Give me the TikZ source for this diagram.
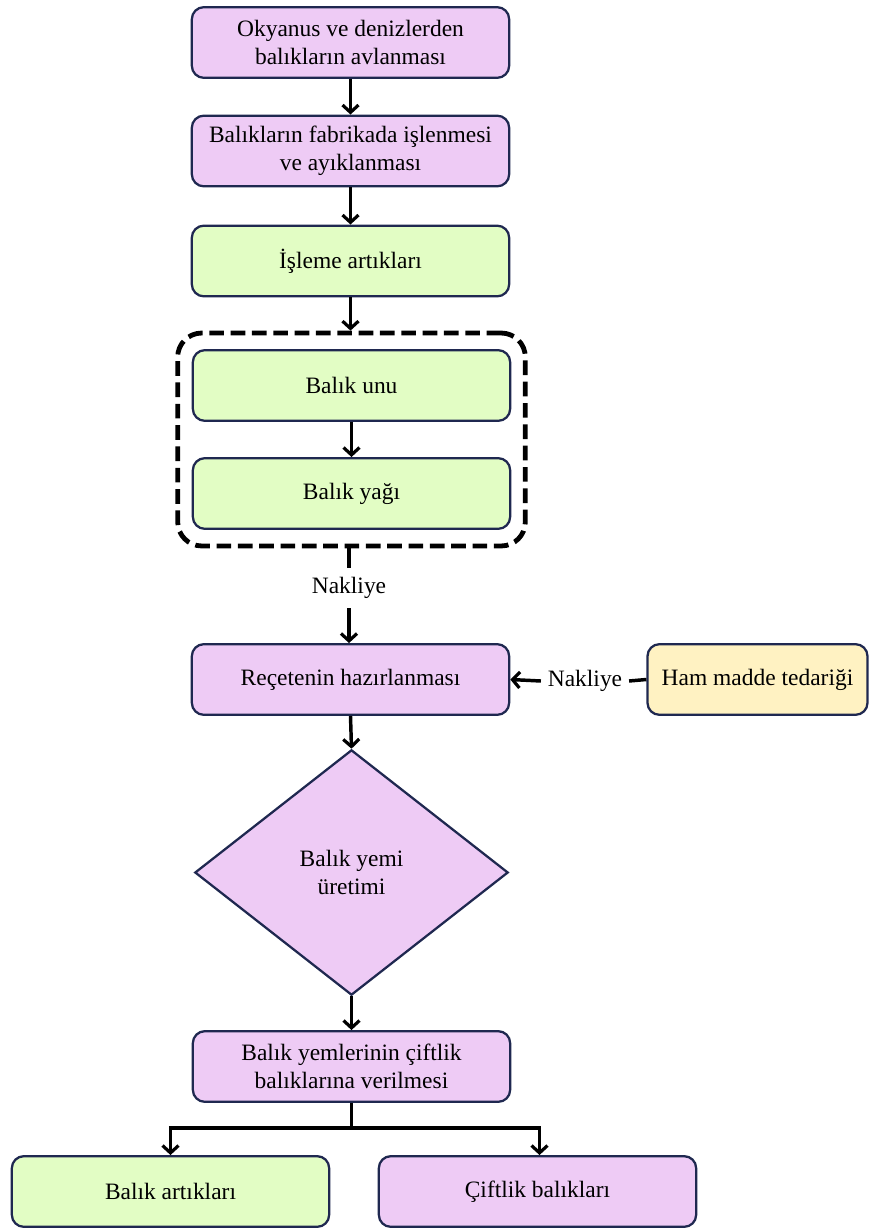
\documentclass[tikz,border=0pt]{standalone}
\usepackage{fontspec}
\setmainfont{Liberation Serif}
\usetikzlibrary{arrows.meta,shapes.geometric,fit}
\definecolor{pinkf}{HTML}{EECBF5}
\definecolor{greenf}{HTML}{E2FDC4}
\definecolor{yellowf}{HTML}{FFF2C2}
\definecolor{navy}{HTML}{1F2850}
\tikzset{
  box/.style={draw=navy, line width=1.7pt, rounded corners=9pt, minimum width=238pt, minimum height=53pt, align=center, inner sep=2pt, font=\fontsize{17.6}{21}\selectfont},
  pinkbox/.style={box, fill=pinkf},
  greenbox/.style={box, fill=greenf},
  yellowbox/.style={box, fill=yellowf},
  lbl/.style={font=\fontsize{17.6}{21}\selectfont, inner xsep=5pt, inner ysep=7pt},
  arr/.style={line width=2.6pt, -{Straight Barb[length=5.5pt,width=12pt,line width=2.4pt]}},
  ln/.style={line width=2.6pt},
  dbox/.style={draw=black, line width=3.6pt, dash pattern=on 11pt off 5pt, rounded corners=18pt}
}
\begin{document}
\begin{tikzpicture}[x=0.75pt,y=-0.75pt]
\useasboundingbox (0,0) rectangle (869,1231);
\node[pinkbox] (b1) at (350.5,42.5) {Okyanus ve denizlerden\\balıkların avlanması};
\node[pinkbox] (b2) at (350.5,151) {Balıkların fabrikada işlenmesi\\ve ayıklanması};
\node[greenbox] (b3) at (350.5,261) {İşleme artıkları};
\node[greenbox] (unu) at (351.5,385.5) {Balık unu};
\node[greenbox] (yag) at (351.5,493.5) {Balık yağı};
\node[dbox, fit=(unu)(yag), inner xsep=10.5pt, inner ysep=12pt] (grp) {};
\node[lbl] (nak1) at (349,588) {Nakliye};
\node[pinkbox] (rec) at (350.5,679.5) {Reçetenin hazırlanması};
\node[yellowbox, minimum width=165pt] (ham) at (757.5,679.5) {Ham madde tedariği};
\node[lbl] (nak2) at (585,681) {Nakliye};
\node[draw=navy, line width=1.7pt, fill=pinkf, shape=diamond, minimum width=235pt, minimum height=184pt, inner sep=0pt, align=center, font=\fontsize{17.6}{21}\selectfont] (dia) at (351.5,872.5) {Balık yemi\\üretimi};
\node[pinkbox] (yem) at (351.5,1066.5) {Balık yemlerinin çiftlik\\balıklarına verilmesi};
\node[greenbox] (art) at (170.5,1191.5) {Balık artıkları};
\node[pinkbox] (cif) at (537.5,1191.5) {Çiftlik balıkları};
\coordinate (j) at (351.5,1128);
\coordinate (jl) at (170.5,1128);
\coordinate (jr) at (539.5,1128);
\draw[arr] (b1) -- (b2);
\draw[arr] (b2) -- (b3);
\draw[arr] (b3.south) -- (b3.south |- grp.north);
\draw[arr] (unu) -- (yag);
\draw[ln] (grp.south -| nak1) -- (nak1.north);
\draw[arr] (nak1.south) -- (nak1.south |- rec.north);
\draw[ln] (ham.west) -- (nak2.east);
\draw[arr] (nak2.west) -- (rec.east);
\draw[arr] (rec.south) -- (dia.north);
\draw[arr] (dia.south) -- (yem.north);
\draw[ln] (yem.south) -- (j);
\draw[ln] ([xshift=-1.3pt]jl) -- ([xshift=1.3pt]jr);
\draw[arr] (jl) -- (jl |- art.north);
\draw[arr] (jr) -- (jr |- cif.north);
\end{tikzpicture}
\end{document}
